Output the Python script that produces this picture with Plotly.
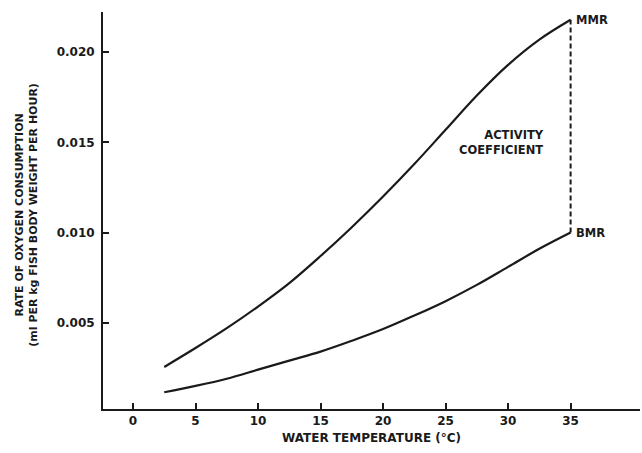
import plotly.graph_objects as go

# Water temperature (deg C) and oxygen consumption rates
temperature = [2.5, 5, 7.5, 10, 12.5, 15, 17.5, 20, 22.5, 25, 27.5, 30, 32.5, 35]
mmr = [0.00255, 0.0036, 0.0047, 0.0059, 0.0072, 0.0087, 0.0103, 0.0120,
       0.0138, 0.0157, 0.0176, 0.0193, 0.0207, 0.0218]
bmr = [0.00115, 0.0015, 0.0019, 0.0024, 0.0029, 0.0034, 0.0040, 0.00465,
       0.0054, 0.0062, 0.0071, 0.0081, 0.0091, 0.0100]

x_ticks = [0, 5, 10, 15, 20, 25, 30, 35]
y_ticks = [0.005, 0.010, 0.015, 0.020]
y_tick_labels = ["0.005", "0.010", "0.015", "0.020"]

FONT = "DejaVu Sans"
INK = "#1a1a1a"

fig = go.Figure()

for series in (mmr, bmr):
    fig.add_trace(go.Scatter(
        x=temperature, y=series, mode="lines",
        line=dict(color=INK, width=2.2, shape="spline", smoothing=1.0),
        hoverinfo="skip", showlegend=False,
    ))

# Dashed span between the two rates at the highest temperature
fig.add_trace(go.Scatter(
    x=[temperature[-1], temperature[-1]], y=[bmr[-1], mmr[-1]],
    mode="lines", line=dict(color=INK, width=2, dash="5px,3px"),
    hoverinfo="skip", showlegend=False,
))

label_font = dict(family=FONT, size=11.5, color=INK, weight=700)

fig.add_annotation(x=temperature[-1], y=mmr[-1], text="MMR", showarrow=False,
                   xanchor="left", yanchor="middle", xshift=3, font=label_font)
fig.add_annotation(x=temperature[-1], y=bmr[-1], text="BMR", showarrow=False,
                   xanchor="left", yanchor="middle", xshift=3, font=label_font)
fig.add_annotation(x=33.0, y=0.0150, text="ACTIVITY<br>COEFFICIENT",
                   showarrow=False, xanchor="right", yanchor="middle",
                   align="right", font=label_font)

# Vertical axis title (two rotated lines)
fig.add_annotation(xref="paper", yref="paper", x=-0.143, y=0.49,
                   text="RATE OF OXYGEN CONSUMPTION<br>(ml PER kg FISH BODY WEIGHT PER HOUR)",
                   textangle=-90, showarrow=False, xanchor="center", yanchor="middle",
                   font=dict(family=FONT, size=11, color=INK, weight=700))

fig.update_layout(
    width=642, height=453,
    margin=dict(l=103, r=2, t=12, b=44),
    paper_bgcolor="white", plot_bgcolor="white",
    font=dict(family=FONT, color=INK),
    xaxis=dict(
        range=[-2.4, 40.55], tickvals=x_ticks,
        ticks="inside", ticklen=6, tickwidth=1.5, tickcolor=INK,
        showline=True, linecolor=INK, linewidth=2,
        showgrid=False, zeroline=False,
        tickfont=dict(family=FONT, size=12, color=INK, weight=700),
        title=dict(text="WATER TEMPERATURE (°C)", standoff=6,
                   font=dict(family=FONT, size=12, color=INK, weight=700)),
    ),
    yaxis=dict(
        range=[0.00022, 0.02223], tickvals=y_ticks, ticktext=y_tick_labels,
        ticks="inside", ticklen=6, tickwidth=1.5, tickcolor=INK,
        showline=True, linecolor=INK, linewidth=2,
        showgrid=False, zeroline=False,
        tickfont=dict(family=FONT, size=12, color=INK, weight=700),
        ticklabelstandoff=4,
    ),
)

fig.write_html("out.html")
